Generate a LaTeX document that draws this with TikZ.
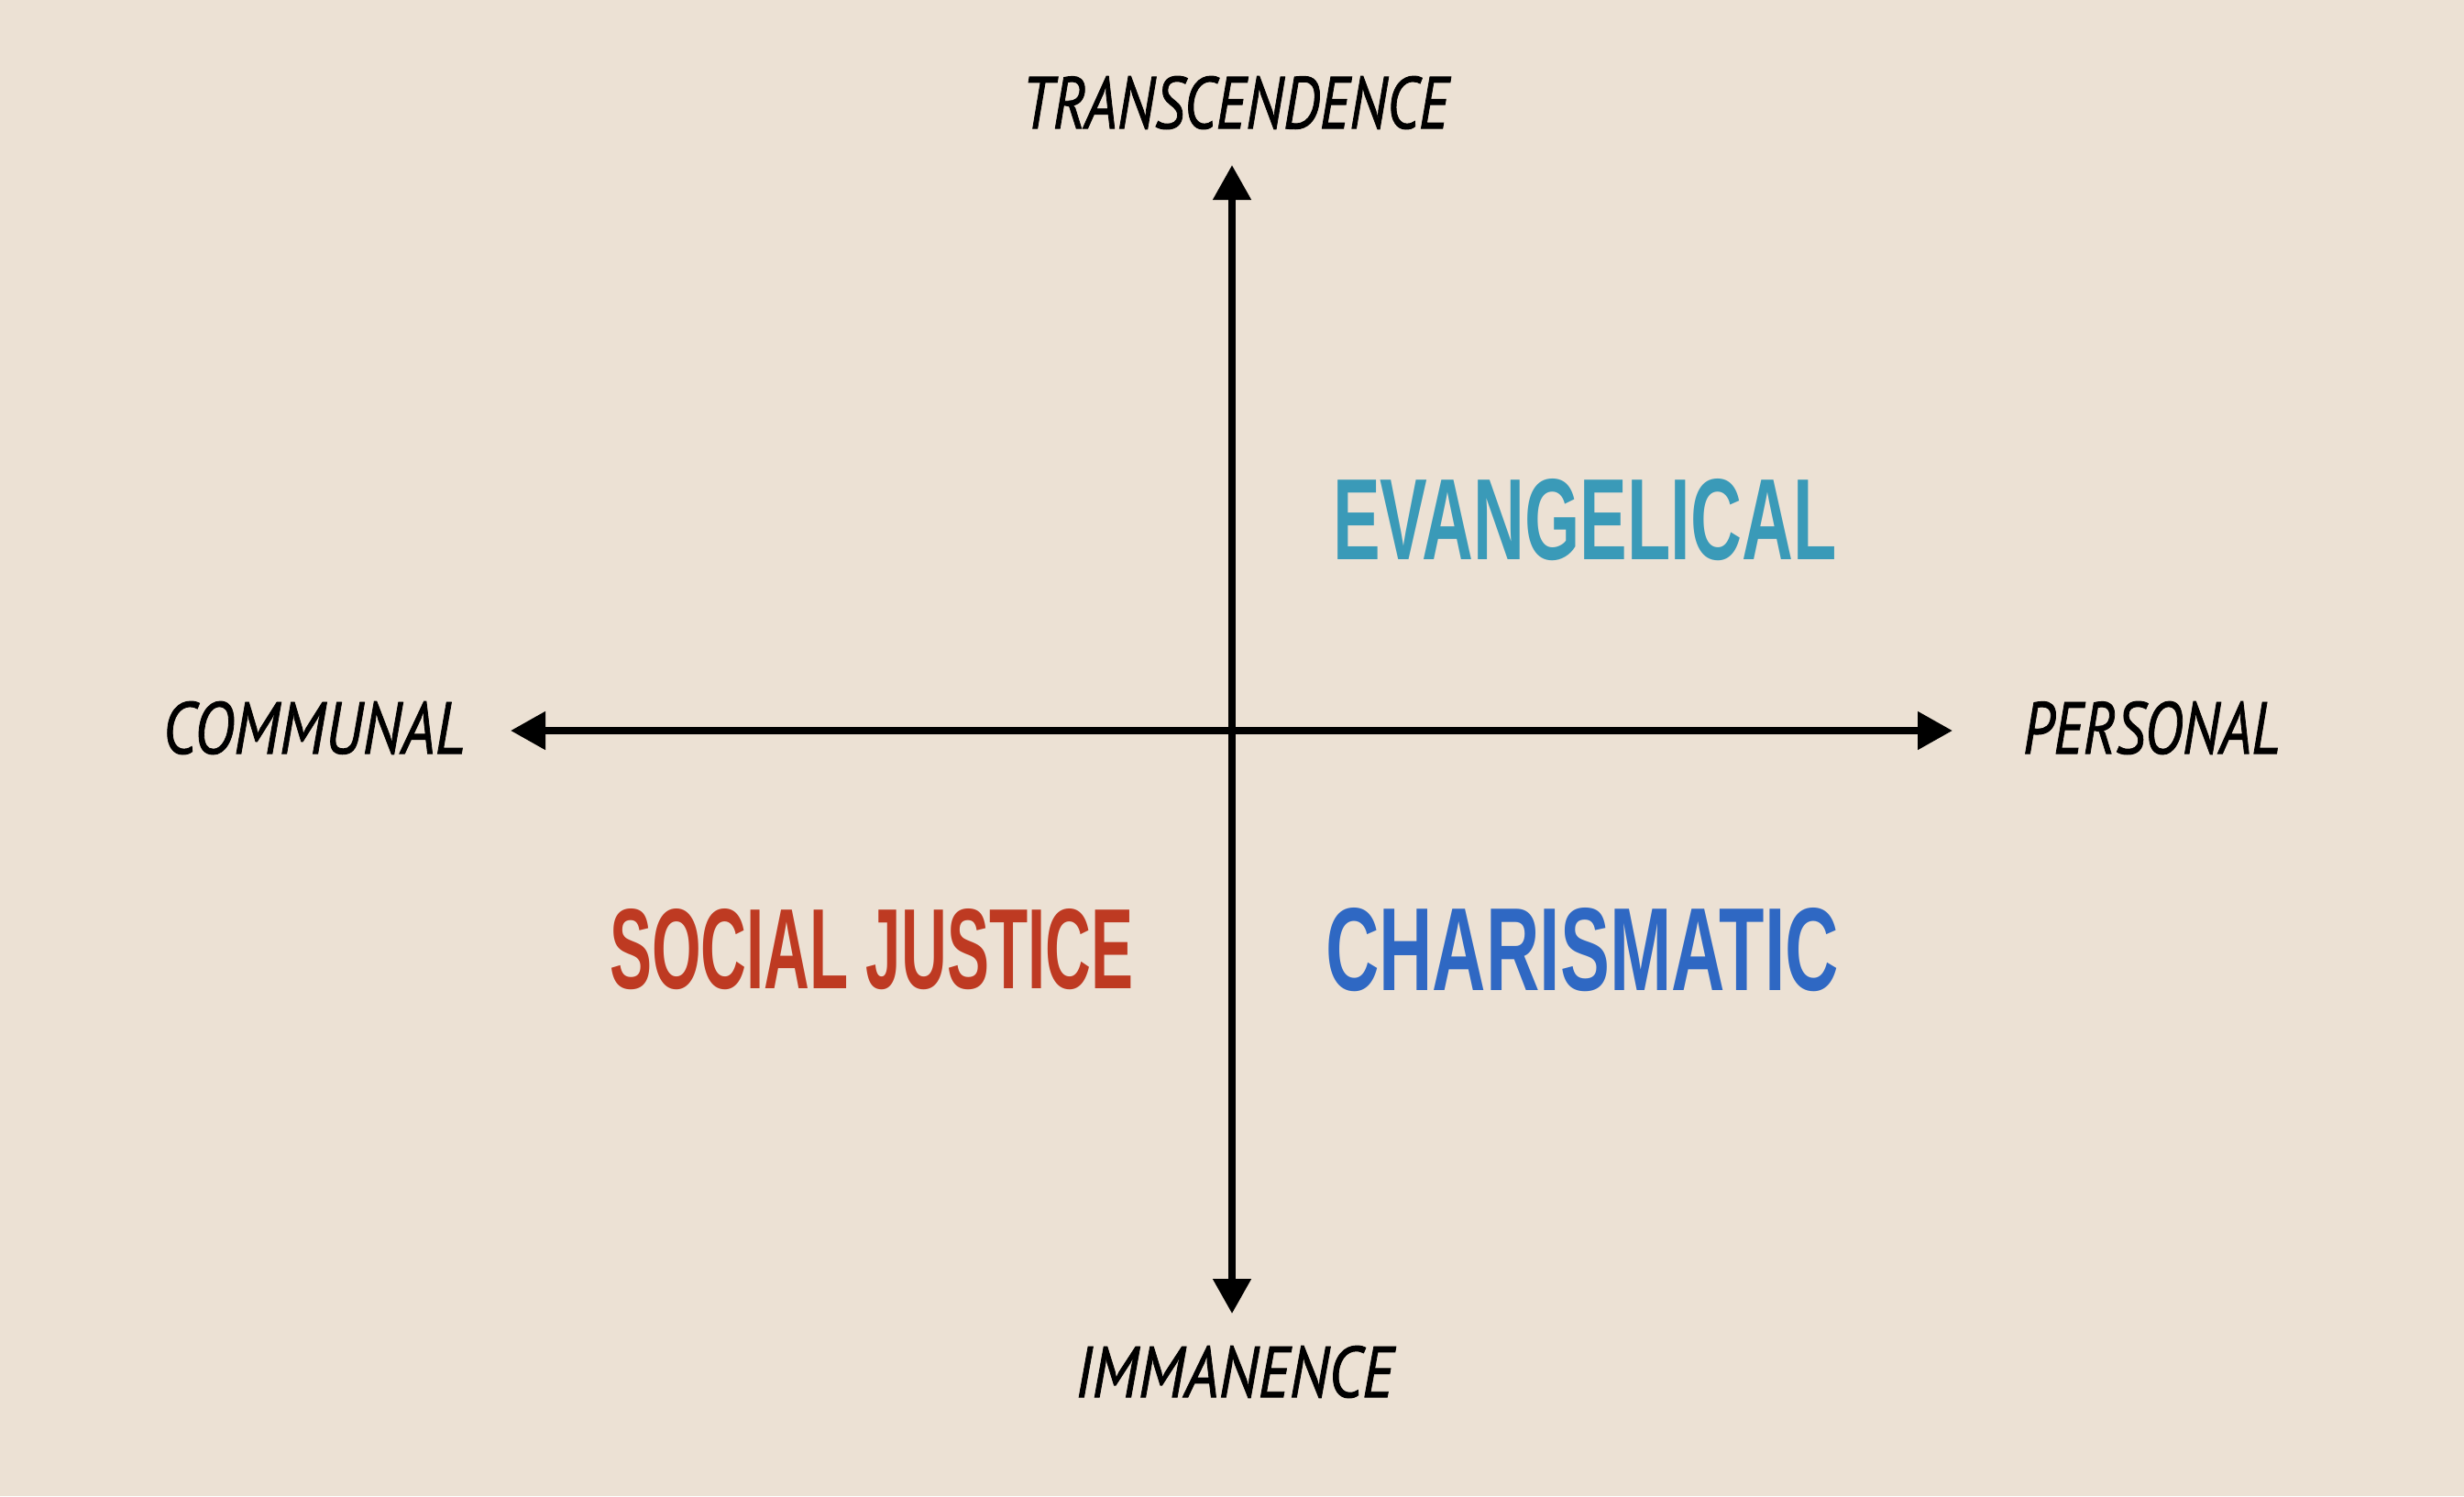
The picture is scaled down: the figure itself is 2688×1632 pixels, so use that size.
\documentclass[tikz,border=0pt]{standalone}
\usepackage{fontspec}
\usepackage{graphicx}
\usetikzlibrary{arrows.meta}
\newfontfamily\axisfont[FakeBold=1.2]{PT Sans}
\newfontfamily\quadfont{Liberation Sans}
\definecolor{bgcol}{HTML}{ECE1D4}
\definecolor{evcol}{HTML}{3A9AB8}
\definecolor{sjcol}{HTML}{BE3A22}
\definecolor{chcol}{HTML}{2F68C3}
\tikzset{
  axisline/.style={line width=0.08cm, black, -{Triangle[length=0.38cm,width=0.40cm]}},
  axislabel/.style={inner sep=0pt, outer sep=0pt, anchor=north west, text=black},
  quadlabel/.style={inner sep=0pt, outer sep=0pt, anchor=north west},
}
\begin{document}
\begin{tikzpicture}[x=0.01cm,y=-0.01cm]
\fill[bgcol] (0,0) rectangle (2688,1632);
\useasboundingbox (0,0) rectangle (2688,1632);
\coordinate (o) at (1344,797);
\coordinate (top) at (1344,180);
\coordinate (bot) at (1344,1433);
\coordinate (lft) at (557,797);
\coordinate (rgt) at (2130,797);
\draw[axisline] (o) -- (top);
\draw[axisline] (o) -- (bot);
\draw[axisline] (o) -- (lft);
\draw[axisline] (o) -- (rgt);
\node[axislabel] (tr) at (1115,83) {\resizebox{4.65cm}{0.57cm}{\axisfont\itshape TRANSCENDENCE}};
\node[axislabel] (im) at (1173,1468) {\resizebox{3.47cm}{0.56cm}{\axisfont\itshape IMMANENCE}};
\node[axislabel] (co) at (178,765) {\resizebox{3.29cm}{0.57cm}{\axisfont\itshape COMMUNAL}};
\node[axislabel] (pe) at (2207,765) {\resizebox{2.80cm}{0.57cm}{\axisfont\itshape PERSONAL}};
\node[quadlabel, text=evcol] (ev) at (1454,522) {\resizebox{5.49cm}{0.88cm}{\quadfont\bfseries EVANGELICAL}};
\node[quadlabel, text=sjcol] (sj) at (665,991) {\resizebox{5.71cm}{0.87cm}{\quadfont\bfseries SOCIAL JUSTICE}};
\node[quadlabel, text=chcol] (ch) at (1446,990) {\resizebox{5.60cm}{0.90cm}{\quadfont\bfseries CHARISMATIC}};
\end{tikzpicture}
\end{document}
